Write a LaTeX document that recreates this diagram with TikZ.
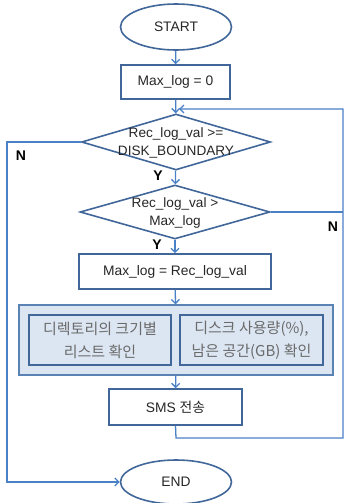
\documentclass[tikz,border=0pt]{standalone}
\usepackage{fontspec}
\setmainfont{Liberation Sans}
\newfontfamily\kr{Noto Sans CJK KR}
\usetikzlibrary{shapes.geometric,arrows.meta}
\definecolor{shapeblue}{HTML}{41679A}
\definecolor{lineblue}{HTML}{4A80C6}
\definecolor{grpfill}{HTML}{DCE6F2}
\definecolor{grpborder}{HTML}{5B82B5}
\definecolor{txt}{HTML}{262626}
\definecolor{krtxt}{HTML}{6A6A6A}
\tikzset{
  term/.style={ellipse,draw=shapeblue,line width=1.6pt,inner sep=0pt,text=txt},
  procbox/.style={rectangle,draw=shapeblue,line width=1.6pt,inner sep=0pt,text=txt},
  decide/.style={diamond,draw=shapeblue,line width=1.6pt,inner sep=0pt},
  dtext/.style={align=center,text=txt,inner sep=0pt,font=\fontsize{13.6}{18}\selectfont},
  grpbox/.style={rectangle,draw=grpborder,fill=grpfill,line width=1.3pt,inner sep=0pt},
  innerbox/.style={rectangle,draw=shapeblue,fill=grpfill,line width=1.6pt,inner sep=0pt,align=center,text=krtxt,font=\kr\fontsize{15}{23}\selectfont},
  conn/.style={draw=lineblue,line width=1.3pt},
  arr/.style={conn,-{Straight Barb[length=4pt,width=8pt,line width=1.3pt]}},
  yn/.style={font=\fontsize{14}{15}\selectfont\bfseries,text=black,inner sep=0pt}
}
\begin{document}
\begin{tikzpicture}[x=1pt,y=-1pt,font=\fontsize{13.8}{17}\selectfont]
\useasboundingbox (0,0) rectangle (345,503);
\node[term,minimum width=111,minimum height=46] (start) at (176,27) {START};
\node[procbox,minimum width=109,minimum height=34] (init) at (175.5,82) {Max\_log = 0};
\node[decide,minimum width=189,minimum height=56] (d1) at (176,142) {};
\node[dtext] (d1t) at (176,143) {Rec\_log\_val >=\\DISK\_BOUNDARY};
\node[decide,minimum width=190,minimum height=54] (d2) at (175,212) {};
\node[dtext] (d2t) at (175,213) {Rec\_log\_val >\\Max\_log};
\node[procbox,minimum width=192,minimum height=35] (upd) at (175,271.5) {Max\_log = Rec\_log\_val};
\node[grpbox,minimum width=314,minimum height=70] (grp) at (176,340) {};
\node[innerbox,minimum width=142,minimum height=50] (in1) at (100,340) {디렉토리의 크기별\\리스트 확인};
\node[innerbox,minimum width=143,minimum height=50] (in2) at (251.5,340) {디스크 사용량(\%),\\남은 공간(GB) 확인};
\node[procbox,minimum width=133,minimum height=36] (sms) at (175.5,407) {SMS {\kr 전송}};
\node[term,minimum width=111,minimum height=44] (end) at (176,482) {END};
\coordinate (lt) at (7,142);
\coordinate (lb) at (7,482);
\coordinate (rtop) at (343,109);
\coordinate (rmid) at (343,212);
\coordinate (rbot) at (343,438);
\coordinate (sb) at (176,438);
\coordinate (loopend) at (179,109);
\draw[arr] (start) -- (init);
\draw[arr] (init) -- (d1);
\draw[arr] (d1) -- (d2);
\draw[arr] (d2) -- (upd);
\draw[arr] (upd) -- (grp);
\draw[arr] (grp) -- (sms);
\draw[arr] (d1.west) -- (lt) -- (lb) -- (end.west);
\draw[conn] (d2.east) -- (rmid);
\draw[arr] (sms.south) -- (sb) -- (rbot) -- (rtop) -- (loopend);
\node[yn] (n1) at (21,156) {N};
\node[yn] (y1) at (158,176) {Y};
\node[yn] (n2) at (333,227) {N};
\node[yn] (y2) at (157,245) {Y};
\end{tikzpicture}
\end{document}
